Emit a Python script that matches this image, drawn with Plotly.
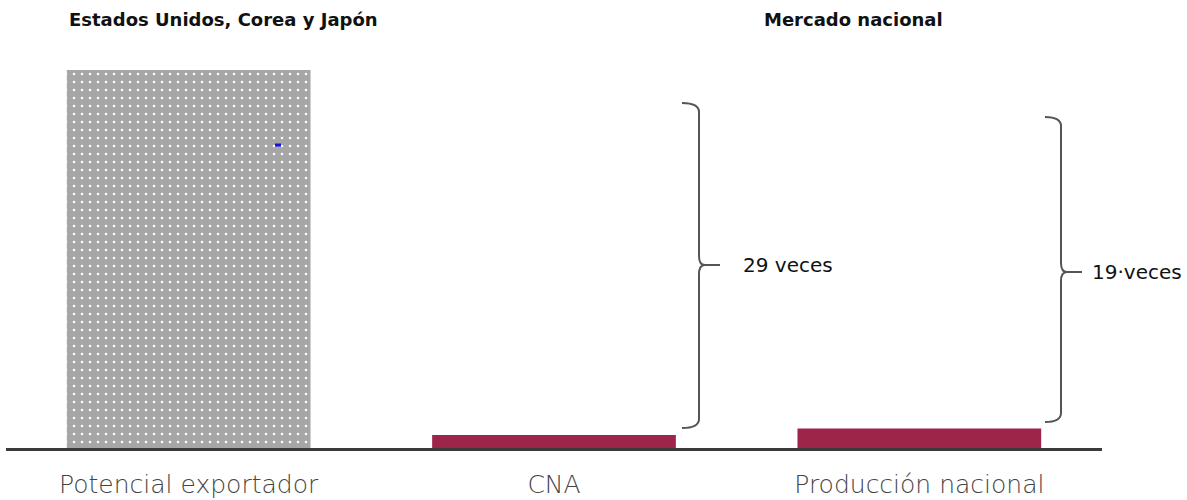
import plotly.graph_objects as go

categories = ["Potencial exportador", "CNA", "Producción nacional"]
values = [29, 1.0, 1.5]
export_color = "#a6a6a6"
dot_color = "#ffffff"
market_color = "#9c2549"
group_titles = ["Estados Unidos, Corea y Japón", "Mercado nacional"]
ratio_labels = ["29 veces", "19·veces"]

W, H = 1187, 500
ML, MR, MT, MB = 6, 85, 70, 52
PW = W - ML - MR
PH = H - MT - MB


def px(x):
    return (x - ML) / PW


def py(y):
    return (H - MB - y) / PH


def brace_path(x0, x1, tip, ytop, ymid, ybot, r=9):
    pts = [
        ("M", [(x0, ytop)]),
        ("Q", [(x1, ytop), (x1, ytop + r)]),
        ("L", [(x1, ymid - r)]),
        ("Q", [(x1, ymid), (x1 + 6, ymid)]),
        ("L", [(tip, ymid)]),
        ("M", [(x1 + 6, ymid)]),
        ("Q", [(x1, ymid), (x1, ymid + r)]),
        ("L", [(x1, ybot - r)]),
        ("Q", [(x1, ybot), (x0, ybot)]),
    ]
    s = ""
    for cmd, ps in pts:
        s += cmd + " " + " ".join(f"{px(a):.5f},{py(b):.5f}" for a, b in ps) + " "
    return s.strip()


fig = go.Figure()
fig.add_trace(go.Bar(
    x=categories[:1],
    y=values[:1],
    width=0.667,
    marker=dict(
        color=export_color,
        line=dict(width=0),
        pattern=dict(
            shape=".",
            fgcolor=dot_color,
            bgcolor=export_color,
            fgopacity=1,
            size=8,
            solidity=0.08,
            fillmode="replace",
        ),
    ),
    hoverinfo="skip",
))
fig.add_trace(go.Bar(
    x=categories[1:],
    y=values[1:],
    width=0.667,
    marker=dict(color=market_color, line=dict(width=0)),
    hoverinfo="skip",
))

shapes = [
    dict(type="path", xref="paper", yref="paper",
         path=brace_path(682, 699, 720, 103, 265, 428),
         line=dict(color="#555555", width=2)),
    dict(type="path", xref="paper", yref="paper",
         path=brace_path(1045, 1061, 1082, 117, 272, 422),
         line=dict(color="#555555", width=2)),
    dict(type="rect", xref="paper", yref="paper",
         x0=px(275), x1=px(281), y0=py(146.5), y1=py(143.5),
         line=dict(width=0), fillcolor="#1010ee"),
]

annotations = [
    dict(text=group_titles[0], xref="paper", yref="paper", x=px(67), y=py(20),
         xanchor="left", yanchor="middle", showarrow=False,
         font=dict(family="DejaVu Sans", size=18, color="#111111", weight="bold")),
    dict(text=group_titles[1], xref="paper", yref="paper", x=px(762), y=py(20),
         xanchor="left", yanchor="middle", showarrow=False,
         font=dict(family="DejaVu Sans", size=18, color="#111111", weight="bold")),
    dict(text=ratio_labels[0], xref="paper", yref="paper", x=px(741), y=py(265),
         xanchor="left", yanchor="middle", showarrow=False,
         font=dict(family="DejaVu Sans", size=20, color="#111111")),
    dict(text=ratio_labels[1], xref="paper", yref="paper", x=px(1090), y=py(272),
         xanchor="left", yanchor="middle", showarrow=False,
         font=dict(family="DejaVu Sans", size=20, color="#111111")),
]

fig.update_layout(
    width=W, height=H,
    margin=dict(l=ML, r=MR, t=MT, b=MB, pad=0),
    paper_bgcolor="white", plot_bgcolor="white",
    showlegend=False,
    barmode="overlay",
    shapes=shapes,
    annotations=annotations,
    xaxis=dict(
        range=[-0.5, 2.5],
        categoryorder="array", categoryarray=categories,
        automargin=False,
        showgrid=False, zeroline=False,
        showline=True, linecolor="#3a3a3a", linewidth=3,
        ticks="", ticklabelstandoff=12,
        tickfont=dict(family="DejaVu Sans", size=25, color="#444444", weight=300),
    ),
    yaxis=dict(range=[0, 29], visible=False, automargin=False,
               showgrid=False, zeroline=False),
)

fig.write_html(
    "out.html",
    config={"displayModeBar": False},
    post_script="document.body.style.margin='0';document.body.style.overflow='hidden';",
)
